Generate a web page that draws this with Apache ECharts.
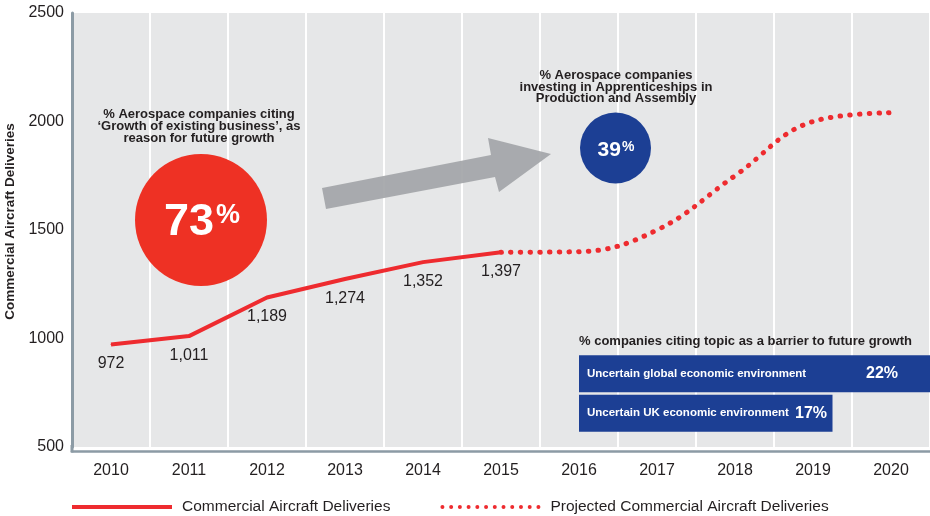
<!DOCTYPE html>
<html>
<head>
<meta charset="utf-8">
<style>
  html, body { margin: 0; padding: 0; background: #ffffff; }
  #chart { width: 930px; height: 516px; }
</style>
<script src="https://cdn.jsdelivr.net/npm/echarts@6/dist/echarts.min.js"></script>
</head>
<body>
<div id="chart"></div>
<script>
// ---- data ----
const years = ['2010', '2011', '2012', '2013', '2014', '2015', '2016', '2017', '2018', '2019', '2020'];
const deliveries = [972, 1011, 1189, 1274, 1352, 1397, null, null, null, null, null];
const projectedDeliveries = [null, null, null, null, null, 1397, 1400, 1500, 1750, 2000, 2040];
const yTicks = [500, 1000, 1500, 2000, 2500];
const barrierTopics = ['Uncertain global economic environment', 'Uncertain UK economic environment'];
const barrierPct = [22, 17];
const growthPct = 73;
const apprenticePct = 39;

const seriesNames = ['Commercial Aircraft Deliveries', 'Projected Commercial Aircraft Deliveries'];

// ---- styles ----
const FONT = '"Liberation Sans", Arial, Helvetica, sans-serif';
const RED = '#ee2b2f';
const BLUE = '#1c3f94';
const TEXT = '#231f20';
const AXIS = '#8c9ba5';

// dotted legend icon path (12 round dots across 100x4)
let dots = '';
for (let i = 0; i < 12; i++) {
  const cx = 2 + i * (96 / 11);
  dots += 'M' + (cx - 2).toFixed(2) + ',2a2,2 0 1,0 4,0a2,2 0 1,0 -4,0Z';
}
const dotIcon = 'path://' + dots;

const nameWidths = [279, 208];

const chart = echarts.init(document.getElementById('chart'), null, { renderer: 'canvas' });

const option = {
  backgroundColor: '#ffffff',
  animation: false,
  textStyle: { fontFamily: FONT },
  grid: [
    { left: 72, right: 0, top: 13, bottom: 69, show: true, backgroundColor: '#e6e7e8', borderWidth: 0,
      containLabel: false, outerBoundsMode: 'none' },
    { left: 579, right: 0, top: 354, height: 79, show: false, containLabel: false, outerBoundsMode: 'none' }
  ],
  legend: {
    left: 72, top: 499, padding: 0,
    itemWidth: 100, itemHeight: 4, itemGap: 50,
    textStyle: { fontFamily: FONT, fontSize: 15.5, color: TEXT, padding: [0, 0, 0, 5] },
    itemStyle: { borderWidth: 0 },
    data: [
      { name: seriesNames[0], icon: 'rect', itemStyle: { color: RED, borderWidth: 0 } },
      { name: seriesNames[1], icon: dotIcon, itemStyle: { color: RED, borderWidth: 0 } }
    ]
  },
  xAxis: [
    {
      type: 'category', gridIndex: 0, data: years, boundaryGap: true, offset: 4,
      axisLine: { lineStyle: { color: AXIS, width: 2.5 } },
      axisTick: { show: false },
      axisLabel: { fontFamily: FONT, fontSize: 16, color: TEXT, margin: 12 },
      splitLine: { show: true, lineStyle: { color: '#ffffff', width: 2 } }
    },
    { type: 'value', gridIndex: 1, min: 4, max: 22, show: false }
  ],
  yAxis: [
    {
      type: 'value', gridIndex: 0,
      min: yTicks[0], max: yTicks[yTicks.length - 1], interval: yTicks[1] - yTicks[0],
      name: 'Commercial Aircraft Deliveries', nameLocation: 'middle', nameGap: 49,
      nameTextStyle: { fontFamily: FONT, fontSize: 13.5, fontWeight: 'bold', color: TEXT, padding: [0, 0, 0, 17] },
      axisLine: { show: true, lineStyle: { color: AXIS, width: 3 } },
      axisTick: { show: false },
      axisLabel: { fontFamily: FONT, fontSize: 16, color: TEXT, margin: 8, padding: [4, 0, 0, 0], formatter: v => String(v) },
      splitLine: { show: false }
    },
    { type: 'category', gridIndex: 1, data: barrierTopics, inverse: true, show: false }
  ],
  series: [
    {
      name: seriesNames[0], type: 'line', xAxisIndex: 0, yAxisIndex: 0,
      data: deliveries, color: RED,
      symbol: 'circle', symbolSize: 1, itemStyle: { color: RED },
      smooth: false,
      lineStyle: { color: RED, width: 4, join: 'round' },
      label: {
        show: true, position: 'bottom', distance: 11,
        fontFamily: FONT, fontSize: 16, color: TEXT,
        formatter: p => Number(p.value).toLocaleString('en-US')
      },
      z: 4
    },
    {
      name: seriesNames[1], type: 'line', xAxisIndex: 0, yAxisIndex: 0,
      data: projectedDeliveries, color: RED,
      symbol: 'none', smooth: 0.4,
      lineStyle: { color: RED, width: 5, type: [0.5, 9.2], cap: 'round' },
      z: 3
    },
    {
      name: 'barriers', type: 'bar', xAxisIndex: 1, yAxisIndex: 1,
      barWidth: 37, itemStyle: { color: BLUE },
      data: barrierPct.map((v, i) => ({
        value: v,
        label: {
          show: true, position: 'insideLeft', distance: 8,
          formatter: p => '{n|' + p.name + '}{v|' + p.value + '%}',
          rich: {
            n: { fontFamily: FONT, fontSize: 11.5, fontWeight: 'bold', color: '#ffffff', width: nameWidths[i] },
            v: { fontFamily: FONT, fontSize: 16, fontWeight: 'bold', color: '#ffffff' }
          }
        }
      })),
      silent: true
    }
  ],
  graphic: [
    // corner join of the axis lines
    { type: 'rect', z: 10, shape: { x: 70.5, y: 445, width: 3, height: 7.5 }, style: { fill: AXIS } },
    // arrow
    {
      type: 'polygon', z: 5,
      shape: { points: [[322, 188], [491, 155], [488, 138], [551, 154], [499, 192], [495, 177], [326, 209]] },
      style: { fill: '#a3a5a8', opacity: 0.92 }
    },
    // red circle
    { type: 'circle', z: 6, shape: { cx: 201, cy: 220, r: 66 }, style: { fill: '#ee3124' } },
    {
      type: 'text', z: 7, x: 202, y: 222,
      style: {
        text: '{a|' + growthPct + '}{b|%}', align: 'center', verticalAlign: 'middle',
        rich: {
          a: { fontFamily: FONT, fontSize: 45, fontWeight: 'bold', fill: '#ffffff', lineHeight: 44, verticalAlign: 'top' },
          b: { fontFamily: FONT, fontSize: 27, fontWeight: 'bold', fill: '#ffffff', lineHeight: 27, verticalAlign: 'top', padding: [2, 0, 0, 2] }
        }
      }
    },
    {
      type: 'text', z: 7, x: 199, y: 126,
      style: {
        text: '% Aerospace companies citing\n\u2018Growth of existing business\u2019, as\nreason for future growth',
        align: 'center', verticalAlign: 'middle',
        fontFamily: FONT, fontSize: 13, fontWeight: 'bold', fill: TEXT, lineHeight: 12
      }
    },
    // blue circle
    { type: 'circle', z: 6, shape: { cx: 615.5, cy: 148, r: 35.5 }, style: { fill: BLUE } },
    {
      type: 'text', z: 7, x: 616, y: 150,
      style: {
        text: '{a|' + apprenticePct + '}{b|%}', align: 'center', verticalAlign: 'middle',
        rich: {
          a: { fontFamily: FONT, fontSize: 21, fontWeight: 'bold', fill: '#ffffff', lineHeight: 21, verticalAlign: 'top' },
          b: { fontFamily: FONT, fontSize: 14, fontWeight: 'bold', fill: '#ffffff', lineHeight: 14, verticalAlign: 'top', padding: [1, 0, 0, 1] }
        }
      }
    },
    {
      type: 'text', z: 7, x: 616, y: 87,
      style: {
        text: '% Aerospace companies\ninvesting in Apprenticeships in\nProduction and Assembly',
        align: 'center', verticalAlign: 'middle',
        fontFamily: FONT, fontSize: 13, fontWeight: 'bold', fill: TEXT, lineHeight: 11.8
      }
    },
    // barrier title
    {
      type: 'text', z: 7, x: 579, y: 341,
      style: {
        text: '% companies citing topic as a barrier to future growth',
        align: 'left', verticalAlign: 'middle',
        fontFamily: FONT, fontSize: 13, fontWeight: 'bold', fill: TEXT
      }
    }
  ]
};

chart.setOption(option);
</script>
</body>
</html>
